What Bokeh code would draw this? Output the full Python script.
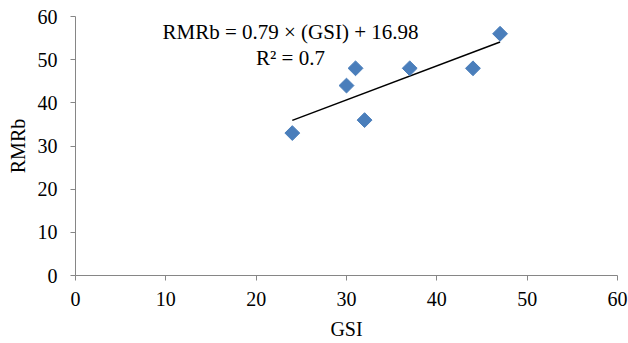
from bokeh.plotting import figure
from bokeh.models import Range1d, Label, FixedTicker
from bokeh.embed import file_html
from bokeh.resources import INLINE
import numpy as np

gsi = [24, 30, 31, 32, 37, 44, 47]
rmrb = [33, 44, 48, 36, 48, 48, 56]
slope = 0.79
intercept = 16.98
r2 = 0.7
ticks = [0, 10, 20, 30, 40, 50, 60]

FONT = "Liberation Serif"
AXC = "#868686"

p = figure(width=628, height=343, output_backend="svg", toolbar_location=None,
           x_range=Range1d(0, 60), y_range=Range1d(0, 60),
           min_border_left=75, min_border_right=11, min_border_top=16, min_border_bottom=68)
p.outline_line_color = None
p.xgrid.visible = False
p.ygrid.visible = False

for ax in (p.xaxis[0], p.yaxis[0]):
    ax.ticker = FixedTicker(ticks=ticks)
    ax.axis_line_color = AXC
    ax.major_tick_line_color = AXC
    ax.minor_tick_line_color = None
    ax.major_tick_in = 0
    ax.major_tick_out = 5
    ax.major_label_text_font = FONT
    ax.major_label_text_font_size = "20px"
    ax.major_label_text_color = "black"
    ax.axis_label_text_font = FONT
    ax.axis_label_text_font_size = "20px"
    ax.axis_label_text_font_style = "normal"
    ax.axis_label_text_color = "black"

p.xaxis.axis_label = "GSI"
p.yaxis.axis_label = "RMRb"
p.xaxis.major_label_standoff = 11
p.yaxis.major_label_standoff = 13
p.xaxis.axis_label_standoff = 9
p.yaxis.axis_label_standoff = 6

xs = np.array([min(gsi), max(gsi)], dtype=float)
p.line(xs, slope * xs + intercept, line_color="black", line_width=1.5)

p.scatter(gsi, rmrb, marker="square", size=10.5, angle=np.pi / 4,
          fill_color="#4A7EBB", line_color="#4A7EBB")

p.add_layout(Label(x=23.8, y=56.3, text=f"RMRb = {slope} × (GSI) + {intercept}",
                   text_align="center", text_baseline="middle",
                   text_font=FONT, text_font_size="21px", text_color="black"))
p.add_layout(Label(x=23.8, y=50.5, text=f"R² = {r2}",
                   text_align="center", text_baseline="middle",
                   text_font=FONT, text_font_size="21px", text_color="black"))

open("out.html", "w").write(file_html(p, INLINE))
